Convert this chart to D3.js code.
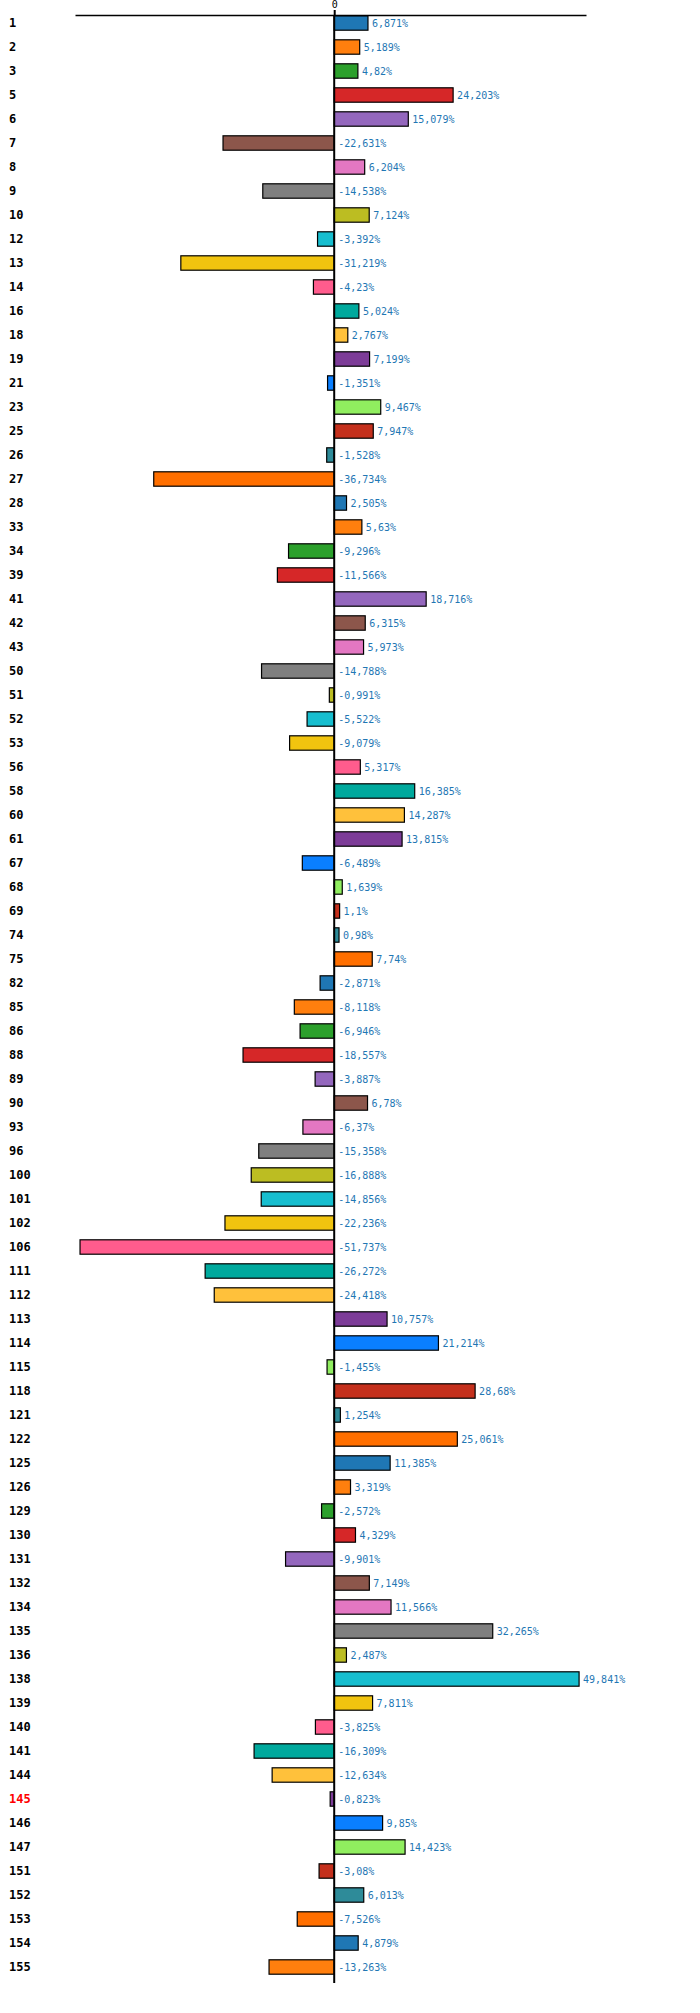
<!DOCTYPE html>
<html>
<head>
<meta charset="utf-8">
<script src="https://cdn.jsdelivr.net/npm/d3@7"></script>
<style>
  html, body { margin: 0; padding: 0; background: #fff; }
  svg { display: block; }
  text { font-family: "DejaVu Sans Mono", "Liberation Mono", monospace; }
</style>
</head>
<body>
<svg id="chart" width="700" height="2013"></svg>
<script>
const categories = ["1","2","3","5","6","7","8","9","10","12","13","14","16","18","19","21","23","25","26","27",
  "28","33","34","39","41","42","43","50","51","52","53","56","58","60","61","67","68","69","74","75",
  "82","85","86","88","89","90","93","96","100","101","102","106","111","112","113","114","115","118","121","122",
  "125","126","129","130","131","132","134","135","136","138","139","140","141","144","145","146","147","151","152","153",
  "154","155"];
const values = [6.871,5.189,4.82,24.203,15.079,-22.631,6.204,-14.538,7.124,-3.392,-31.219,-4.23,5.024,2.767,7.199,-1.351,9.467,7.947,-1.528,-36.734,
  2.505,5.63,-9.296,-11.566,18.716,6.315,5.973,-14.788,-0.991,-5.522,-9.079,5.317,16.385,14.287,13.815,-6.489,1.639,1.1,0.98,7.74,
  -2.871,-8.118,-6.946,-18.557,-3.887,6.78,-6.37,-15.358,-16.888,-14.856,-22.236,-51.737,-26.272,-24.418,10.757,21.214,-1.455,28.68,1.254,25.061,
  11.385,3.319,-2.572,4.329,-9.901,7.149,11.566,32.265,2.487,49.841,7.811,-3.825,-16.309,-12.634,-0.823,9.85,14.423,-3.08,6.013,-7.526,
  4.879,-13.263];
const palette = ["#1f77b4","#ff7f0e","#2ca02c","#d62728","#9467bd","#8c564b","#e377c2","#7f7f7f","#bcbd22","#17becf",
  "#f1c40f","#ff5c8d","#00a99d","#ffc13b","#7d3c98","#0a7fff","#90ee5f","#c4301c","#2e8b99","#ff6f00"];
const highlighted = ["145"];
const xTicks = [0];
const xDomain = [-52.76, 51.25];

const data = categories.map((c, i) => ({ cat: c, value: values[i] }));

const svg = d3.select("#chart");
const x = d3.scaleLinear().domain(xDomain).range([75, 586]);
const y = d3.scaleBand().domain(categories).range([11, 11 + categories.length * 24])
  .paddingInner(0.4).paddingOuter(0.2);
const color = d3.scaleOrdinal().domain(categories).range(palette);

// bars
svg.append("g").selectAll("rect").data(data).join("rect")
  .attr("x", d => x(Math.min(0, d.value)))
  .attr("y", d => y(d.cat))
  .attr("width", d => Math.abs(x(d.value) - x(0)))
  .attr("height", y.bandwidth())
  .attr("fill", d => color(d.cat))
  .attr("stroke", "#000")
  .attr("stroke-width", 1.2);

// value labels
svg.append("g").selectAll("text").data(data).join("text")
  .attr("x", d => (d.value >= 0 ? x(d.value) : x(0)) + 4)
  .attr("y", d => y(d.cat) + y.bandwidth() / 2)
  .attr("dy", "0.35em")
  .attr("font-size", 10)
  .attr("fill", "#1f77b4")
  .text(d => String(d.value).replace(".", ",") + "%");

// category labels
svg.append("g").selectAll("text").data(data).join("text")
  .attr("x", 9)
  .attr("y", d => y(d.cat) + y.bandwidth() / 2)
  .attr("dy", "0.35em")
  .attr("font-size", 12)
  .attr("font-weight", "bold")
  .attr("fill", d => highlighted.includes(d.cat) ? "#ff0000" : "#000")
  .text(d => d.cat);

// top axis
const axis = svg.append("g").attr("transform", "translate(0,15)")
  .call(d3.axisTop(x).tickValues(xTicks).tickSize(5).tickSizeOuter(0).tickFormat(d3.format("d")));
axis.select(".domain").attr("stroke", "#000").attr("stroke-width", 1.4);
axis.selectAll(".tick line").attr("stroke-width", 2);
axis.selectAll(".tick text").attr("font-size", 10).attr("font-family", "DejaVu Sans Mono, monospace").attr("y", -7);

// zero line
svg.append("line")
  .attr("x1", x(0)).attr("x2", x(0))
  .attr("y1", 15).attr("y2", y.range()[1] + 4)
  .attr("stroke", "#000").attr("stroke-width", 2);
</script>
</body>
</html>
